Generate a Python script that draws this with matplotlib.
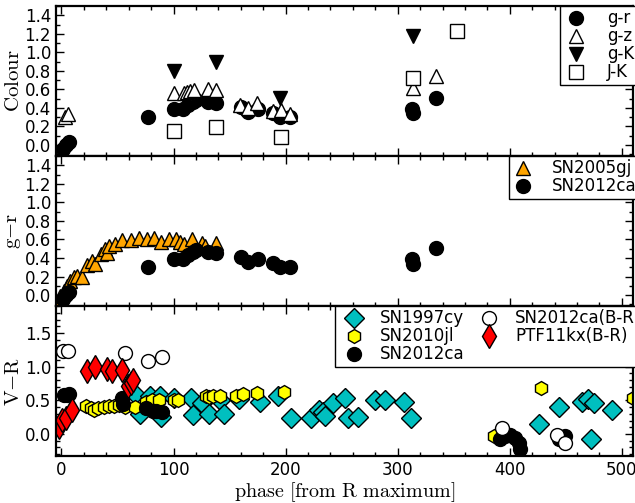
import matplotlib
matplotlib.use('Agg')
import matplotlib.pyplot as plt
from matplotlib.ticker import MultipleLocator

plt.rcParams['mathtext.fontset'] = 'cm'
plt.rcParams['font.family'] = 'DejaVu Sans'
plt.rcParams['xtick.direction'] = 'in'
plt.rcParams['ytick.direction'] = 'in'
plt.rcParams['xtick.top'] = True
plt.rcParams['ytick.right'] = True
plt.rcParams['xtick.major.size'] = 6
plt.rcParams['ytick.major.size'] = 6
plt.rcParams['xtick.minor.size'] = 3
plt.rcParams['ytick.minor.size'] = 3
plt.rcParams['xtick.labelsize'] = 12
plt.rcParams['ytick.labelsize'] = 12
plt.rcParams['axes.linewidth'] = 1.6

# ---- top panel: SN2012ca colours
gr_x = [1, 4, 7, 77, 100, 108, 113, 117, 120, 131, 138, 160, 166, 175, 189, 195, 204, 313, 314, 334]
gr_y = [-0.04, 0.0, 0.03, 0.30, 0.39, 0.39, 0.43, 0.46, 0.49, 0.46, 0.45, 0.41, 0.36, 0.39, 0.35, 0.30, 0.30, 0.39, 0.34, 0.51]

gz_x = [3, 6, 100, 109, 112, 115, 118, 131, 138, 159, 166, 174, 189, 196, 204, 314, 334]
gz_y = [0.30, 0.33, 0.56, 0.56, 0.57, 0.58, 0.59, 0.60, 0.59, 0.43, 0.40, 0.45, 0.37, 0.38, 0.33, 0.61, 0.75]

gk_x = [100, 138, 195, 314]
gk_y = [0.80, 0.90, 0.51, 1.18]

jk_x = [100, 138, 196, 314, 353]
jk_y = [0.15, 0.19, 0.09, 0.72, 1.23]

# ---- middle panel: SN2005gj g-r
gj_x = [-4, -1, 2, 5, 8, 11, 14, 18.5, 23, 27, 30, 35, 39, 41, 42, 48, 54, 62, 69, 76.5, 82.5,
        89, 96, 102.5, 105.5, 109, 116.5, 125, 128, 137.6]
gj_y = [-0.07, -0.01, 0.04, 0.10, 0.15, 0.19, 0.21, 0.19, 0.32, 0.37, 0.33, 0.44, 0.50, 0.45, 0.53,
        0.55, 0.59, 0.59, 0.62, 0.60, 0.62, 0.57, 0.60, 0.60, 0.57, 0.55, 0.60, 0.56, 0.53, 0.56]

# ---- bottom panel: V-R
cy_x = [66, 70, 79, 88, 89, 100, 116, 117, 125, 132, 141, 145, 158, 177, 193, 205, 223, 230, 233, 235,
        242, 253, 256, 265, 280, 289, 306, 312, 426, 444, 464, 470, 475, 472, 491]
cy_y = [0.60, 0.29, 0.56, 0.56, 0.26, 0.54, 0.53, 0.28, 0.46, 0.29, 0.51, 0.29, 0.52, 0.48, 0.56, 0.24,
        0.24, 0.36, 0.32, 0.27, 0.46, 0.53, 0.24, 0.26, 0.51, 0.51, 0.48, 0.24, 0.15, 0.40, 0.48, 0.52,
        0.46, -0.08, 0.35]

jl_x = [22, 26, 29, 33, 38, 42, 47, 51, 57, 66, 75, 81, 87, 100, 104, 129, 132, 135, 141, 156, 162,
        174.5, 198.7, 386, 428, 510]
jl_y = [0.41, 0.38, 0.36, 0.38, 0.40, 0.41, 0.42, 0.43, 0.40, 0.40, 0.47, 0.50, 0.51, 0.51, 0.50, 0.57,
        0.55, 0.56, 0.56, 0.56, 0.60, 0.61, 0.63, -0.03, 0.68, 0.53]

ca_x = [2, 5, 7, 54, 55, 75, 82, 84, 90, 391, 396, 400, 405, 408, 409, 443.5, 449]
ca_y = [0.58, 0.58, 0.59, 0.53, 0.45, 0.38, 0.34, 0.34, 0.32, -0.08, -0.03, -0.01, -0.06, -0.13, -0.23,
        -0.08, -0.03]

cabr_x = [1, 5.6, 57, 77, 89.7, 393, 442, 449.5]
cabr_y = [1.23, 1.23, 1.21, 1.09, 1.14, 0.09, -0.01, -0.13]

kx_x = [-2.4, 0.6, 3.6, 9.5, 23, 30, 40.8, 44.7, 53.6, 59.6, 61.7, 63.7]
kx_y = [0.11, 0.21, 0.24, 0.36, 0.93, 1.00, 0.96, 0.93, 0.95, 0.71, 0.76, 0.80]

fig, axes = plt.subplots(3, 1, sharex=True, figsize=(6.35, 5.03), dpi=100)
fig.subplots_adjust(left=0.088, right=0.997, top=0.988, bottom=0.093, hspace=0)
ax1, ax2, ax3 = axes

ms = 10
ax1.plot(gr_x, gr_y, 'o', color='k', mec='k', ms=ms, label='g-r')
ax1.plot(gz_x, gz_y, '^', mfc='w', mec='k', ms=ms, label='g-z')
ax1.plot(gk_x, gk_y, 'v', color='k', mec='k', ms=ms, label='g-K')
ax1.plot(jk_x, jk_y, 's', mfc='w', mec='k', ms=ms, label='J-K')
ax1.set_ylim(-0.12, 1.5)
ax1.set_ylabel(r'$\mathrm{Colour}$', fontsize=15)
leg = ax1.legend(loc='upper right', numpoints=1, fontsize=12, labelspacing=0.0, borderpad=0.2,
                 handlelength=1.5, handletextpad=1.1, borderaxespad=0, bbox_to_anchor=(1.008, 1.0),
                 fancybox=False, framealpha=1)
leg.get_frame().set_edgecolor('k')

ax2.plot(gj_x, gj_y, '^', mfc='orange', mec='k', ms=ms, label='SN2005gj')
ax2.plot(gr_x, gr_y, 'o', color='k', mec='k', ms=ms, label='SN2012ca')
ax2.set_ylim(-0.12, 1.5)
ax2.set_ylabel(r'$\mathrm{g{-}r}$', fontsize=15)
leg = ax2.legend(loc='upper right', numpoints=1, fontsize=12, labelspacing=0.0, borderpad=0.2,
                 handlelength=1.3, handletextpad=1.1, borderaxespad=0, bbox_to_anchor=(1.012, 1.0),
                 fancybox=False, framealpha=1)
leg.get_frame().set_edgecolor('k')

ax3.plot(cy_x, cy_y, 'D', mfc='c', mec='k', ms=ms, label='SN1997cy')
ax3.plot(jl_x, jl_y, 'h', mfc='yellow', mec='k', ms=ms, label='SN2010jl')
ax3.plot(ca_x, ca_y, 'o', color='k', mec='k', ms=ms, label='SN2012ca')
ax3.plot(cabr_x, cabr_y, 'o', mfc='w', mec='k', ms=ms, label='SN2012ca(B-R)')
ax3.plot(kx_x, kx_y, 'd', mfc='red', mec='k', ms=ms + 2, label='PTF11kx(B-R)')
ax3.set_ylim(-0.33, 1.9)
ax3.set_ylabel(r'$\mathrm{V{-}R}$', fontsize=15)
ax3.set_xlabel(r'$\mathrm{phase\ [from\ R\ maximum]}$', fontsize=14.5, labelpad=1)
leg = ax3.legend(loc='upper right', numpoints=1, ncol=2, fontsize=12, labelspacing=0.0, borderpad=0.2,
                 handlelength=1.8, handletextpad=0.65, columnspacing=0.6, borderaxespad=0,
                 bbox_to_anchor=(1.02, 1.0), fancybox=False, framealpha=1)
leg.get_frame().set_edgecolor('k')

ax3.set_xlim(-5, 510)
ax3.xaxis.set_major_locator(MultipleLocator(100))
ax3.xaxis.set_minor_locator(MultipleLocator(20))
for ax in (ax1, ax2):
    ax.yaxis.set_major_locator(MultipleLocator(0.2))
    ax.yaxis.set_minor_locator(MultipleLocator(0.1))
ax3.yaxis.set_major_locator(MultipleLocator(0.5))
ax3.yaxis.set_minor_locator(MultipleLocator(0.1))

for ax in axes:
    ax.tick_params(which='both', width=1)
    ax.yaxis.set_label_coords(-0.057, 0.5)

fig.savefig('out.png', dpi=100)
